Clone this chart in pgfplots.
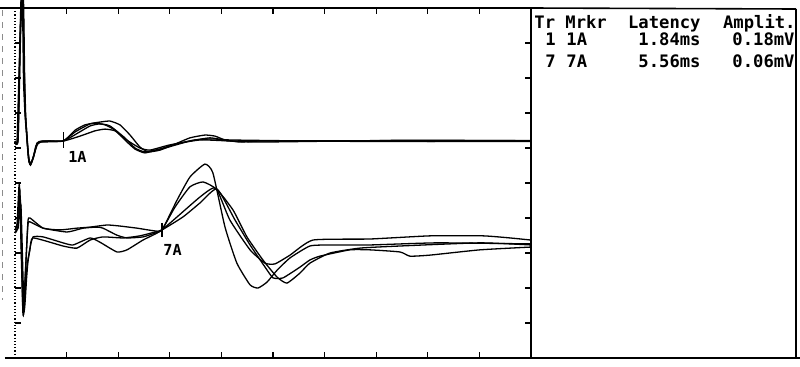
\documentclass[border=0pt]{standalone}
\usepackage{pgfplots}
\usepackage{pgfplotstable}
\pgfplotsset{compat=1.18}
\usepackage{fontspec}
\newfontfamily\mono{DejaVu Sans Mono}
\begin{document}
% top group (trace 1), time in ms, amplitude in screen divisions
\pgfplotstableread{
x y
0 6.20
0.08 6.23
0.19 9.09
0.25 10.2
0.31 10.2
0.35 8.51
0.39 7.09
0.43 6.66
0.50 5.94
0.58 5.54
0.70 5.71
0.81 6.06
0.97 6.17
1.36 6.20
1.87 6.20
2.33 6.46
2.91 6.69
3.29 6.74
3.68 6.77
4.07 6.66
4.46 6.37
4.84 6.03
5.16 5.89
5.62 5.94
6.20 6.11
6.78 6.29
7.36 6.37
7.75 6.34
8.14 6.23
8.72 6.17
9.50 6.20
12 6.21
16 6.19
20 6.20
}\tA
\pgfplotstableread{
x y
0 6.17
0.10 6.23
0.21 9.37
0.25 10.2
0.33 10.2
0.37 8.23
0.41 7.03
0.47 6.23
0.54 5.66
0.62 5.57
0.74 5.80
0.85 6.09
1.01 6.17
1.87 6.20
2.33 6.51
2.71 6.66
3.10 6.71
3.49 6.66
3.88 6.51
4.26 6.23
4.65 5.97
5.04 5.86
5.62 5.97
6.20 6.11
6.98 6.23
7.75 6.26
8.53 6.20
14 6.21
20 6.21
}\tB
\pgfplotstableread{
x y
0 6.20
0.12 6.26
0.19 8.80
0.23 10.2
0.29 10.2
0.33 7.94
0.39 6.94
0.45 6.37
0.52 5.71
0.60 5.51
0.72 5.74
0.85 6.14
1.05 6.20
1.87 6.20
2.44 6.43
2.91 6.63
3.29 6.69
3.68 6.63
4.26 6.29
4.65 6.00
5.04 5.89
5.81 6.00
6.78 6.20
7.56 6.29
8.33 6.23
13 6.19
20 6.19
}\tC
\pgfplotstableread{
x y
0 6.17
0.12 6.23
0.21 9.09
0.27 10.2
0.31 10.2
0.37 7.66
0.41 6.86
0.47 6.29
0.54 5.60
0.62 5.54
0.74 5.83
0.89 6.14
1.09 6.20
1.87 6.20
2.52 6.34
3.10 6.49
3.49 6.54
3.88 6.49
4.26 6.26
4.84 6.00
5.23 5.94
6.01 6.09
7.17 6.23
8.33 6.20
9.50 6.17
15 6.22
20 6.21
}\tD
% bottom group (trace 7)
\pgfplotstableread{
x y
0 3.71
0.08 3.80
0.17 4.94
0.31 1.23
0.41 2.51
0.50 3.89
0.58 4.00
1.09 3.71
1.74 3.66
2.40 3.71
2.91 3.74
3.57 3.80
4.07 3.77
4.73 3.71
5.43 3.63
5.70 3.66
6.28 4.51
6.78 5.17
7.36 5.54
7.67 5.29
8.14 3.74
8.60 2.71
9.11 2.09
9.42 2.00
9.77 2.17
10.16 2.51
10.66 2.86
11.43 3.20
12.21 3.23
13.76 3.23
16.36 3.29
20 3.26
}\bA
\pgfplotstableread{
x y
0 3.66
0.10 3.89
0.19 4.80
0.31 1.31
0.41 2.57
0.50 3.80
0.58 3.89
1.09 3.71
2.02 3.60
2.64 3.71
3.18 3.74
3.41 3.71
3.95 3.51
4.34 3.43
4.96 3.46
5.43 3.57
5.70 3.66
6.20 4.31
6.78 4.89
7.29 5.03
7.83 4.80
8.33 3.94
9.11 3.09
9.69 2.71
10.08 2.69
10.66 2.94
11.55 3.37
13.76 3.40
16.09 3.49
18.14 3.49
19.19 3.43
20 3.37
}\bB
\pgfplotstableread{
x y
0 3.60
0.12 3.77
0.21 4.51
0.33 1.29
0.43 2.37
0.50 2.80
0.58 3.14
0.70 3.46
1.09 3.46
1.86 3.29
2.25 3.23
2.91 3.43
3.29 3.31
3.95 3.03
4.34 3.09
4.96 3.37
5.43 3.54
5.70 3.66
6.28 4.03
7.17 4.60
7.75 4.86
8.45 4.23
8.99 3.46
9.61 2.80
10.16 2.31
10.54 2.14
11.05 2.43
11.43 2.71
12.21 3.00
13.37 3.14
14.92 3.20
18.02 3.29
20 3.23
}\bC
\pgfplotstableread{
x y
0 3.57
0.12 3.71
0.23 4.37
0.35 1.37
0.45 2.29
0.50 2.74
0.58 3.09
0.70 3.43
1.86 3.20
2.40 3.14
2.91 3.37
3.41 3.46
4.19 3.43
4.84 3.49
5.43 3.60
5.70 3.66
6.51 4.03
7.17 4.43
7.83 4.83
8.53 3.94
9.11 3.23
9.69 2.60
10.00 2.29
10.39 2.29
11.05 2.60
11.43 2.80
11.82 2.91
12.98 3.09
13.76 3.09
14.92 3.03
15.31 2.91
16.09 2.94
18.02 3.09
20 3.17
}\bD
\begin{tikzpicture}
\useasboundingbox (-7.5pt,-4pt) rectangle (392.5pt,179pt);
\begin{axis}[
  at={(0,0)}, anchor=south west,
  scale only axis, width=258pt, height=175pt,
  xmin=0, xmax=20, ymin=0, ymax=10,
  clip=false,
  axis line style={draw=none},
  xtick={2,4,...,18}, ytick={1,2,...,9},
  xticklabels={}, yticklabels={},
  tick align=inside, major tick length=3pt,
  tick style={black, line width=0.6pt},
  trace/.style={black, line width=0.65pt, no markers, smooth, tension=0.3},
  mk/.style={black, line width=0.65pt, no markers, sharp plot},
]
\addplot[trace] table {\tA};
\addplot[trace] table {\tB};
\addplot[trace] table {\tC};
\addplot[trace] table {\tD};
\addplot[trace] table {\bA};
\addplot[trace] table {\bB};
\addplot[trace] table {\bC};
\addplot[trace] table {\bD};
% markers
\addplot[mk] coordinates {(1.87,6.45) (1.87,6.01)};
\addplot[mk] coordinates {(5.70,3.86) (5.70,3.46)};
\node[anchor=base west, inner sep=0, font=\mono\bfseries\fontsize{7.6pt}{8pt}\selectfont] at (axis cs:2.05,5.6) {1A};
\node[anchor=base west, inner sep=0, font=\mono\bfseries\fontsize{7.6pt}{8pt}\selectfont] at (axis cs:5.74,2.94) {7A};
\end{axis}
\begin{scope}[x=0.5pt, y=-0.5pt, shift={(-7.5pt,179pt)}]
  % frame
  \draw[line width=0.8pt] (0,8) -- (531,8) -- (796,9);
  \draw[line width=0.8pt] (5,358) -- (800,358);
  \draw[line width=0.8pt] (531,8) -- (531,358);
  \draw[line width=0.8pt] (796,9) -- (796,358);
  \draw[line width=0.6pt, densely dotted] (15,8) -- (15,358);
  \draw[line width=0.5pt, dashed, black!45] (3,10) -- (3,300);
  % table
  \begin{scope}[every node/.style={inner sep=0, font=\mono\bfseries\fontsize{8.6pt}{9pt}\selectfont}]
    \node[anchor=base west] at (534,28) {Tr};
    \node[anchor=base west] at (565,28) {Mrkr};
    \node[anchor=base east] at (701,28) {Latency};
    \node[anchor=base east] at (796,28) {Amplit.};
    \node[anchor=base west] at (545,45) {1};
    \node[anchor=base west] at (566,45) {1A};
    \node[anchor=base east] at (701,45) {1.84ms};
    \node[anchor=base east] at (795,45) {0.18mV};
    \node[anchor=base west] at (545,67) {7};
    \node[anchor=base west] at (566,67) {7A};
    \node[anchor=base east] at (701,67) {5.56ms};
    \node[anchor=base east] at (795,67) {0.06mV};
  \end{scope}
\end{scope}
\end{tikzpicture}
\end{document}
